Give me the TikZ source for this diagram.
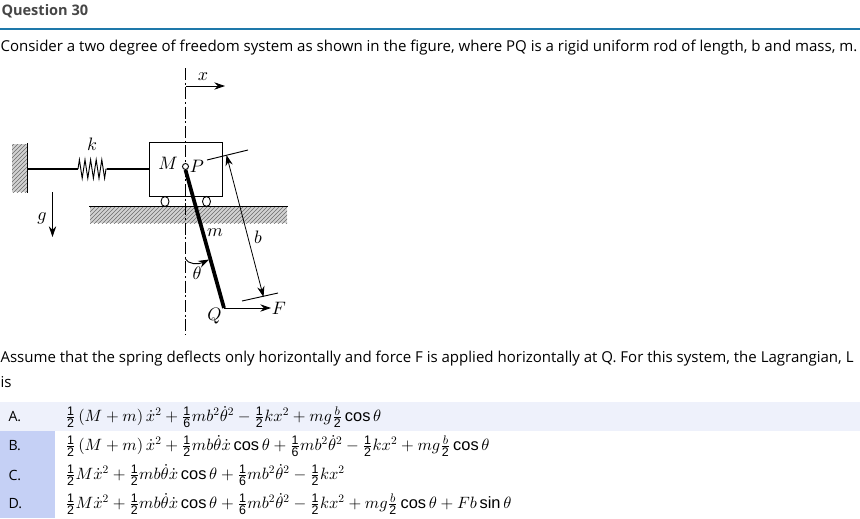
\documentclass[tikz,border=0pt]{standalone}
\usepackage{fontspec}
\setmainfont{Open Sans}
\newfontfamily\optfont{Liberation Sans}
\usetikzlibrary{arrows.meta,patterns,shapes.geometric,decorations.pathmorphing}
\DeclareFontShape{OML}{cmm}{m}{it}{<-6>cmmi5 <6-8>cmmi7 <8->cmmi10}{\skewchar\font=127}
\DeclareFontShape{OMS}{cmsy}{m}{n}{<-6>cmsy5 <6-8>cmsy7 <8->cmsy10}{\skewchar\font=48}
\DeclareFontShape{OT1}{cmr}{m}{n}{<-6>cmr5 <6-8>cmr7 <8->cmr10}{}
\definecolor{rulecolor}{RGB}{30,120,170}
\definecolor{titlegray}{RGB}{70,70,70}
\definecolor{rowlight}{RGB}{238,241,251}
\definecolor{rowdark}{RGB}{197,208,245}
\newcommand{\optfrac}[2]{\frac{\hbox{\fontsize{9.3pt}{10pt}\optfont #1}}{\hbox{\fontsize{9.3pt}{10pt}\optfont #2}}}
\newcommand{\optcos}{\mathop{\hbox{\optfont cos}}}
\newcommand{\optsin}{\mathop{\hbox{\optfont sin}}}
\tikzset{
  linetext/.style={anchor=west, inner sep=0pt, font=\fontsize{11.27pt}{13pt}\selectfont},
  optlabel/.style={anchor=west, inner sep=0pt, font=\fontsize{10.6pt}{12pt}\selectfont},
  opteqn/.style={anchor=west, inner sep=0pt, font=\fontsize{12.3pt}{14pt}\selectfont},
  figlabel/.style={inner sep=0pt, font=\fontsize{13.5pt}{15pt}\selectfont},
  hatchbox/.style={draw=none, fill=gray!35, inner sep=0pt, postaction={pattern=north east lines, pattern color=gray!85!black}},
  thinflow/.style={-{Stealth[length=8pt,width=5.5pt]}, line width=0.7pt},
  thinline/.style={line width=0.7pt},
}
\begin{document}
\begin{tikzpicture}[x=0.75pt,y=-0.75pt,line width=0.8pt]
      \useasboundingbox (0,0) rectangle (860,518);
      \fill[white] (0,0) rectangle (860,518);

      %% ---- Heading and text ----
      \node[anchor=west, inner sep=0pt, text=titlegray, font=\fontsize{10.9pt}{12pt}\selectfont\bfseries] (title) at (1,11) {Question 30};
      \coordinate (ruleleft) at (0,29);
      \coordinate (ruleright) at (860,29);
      \draw[rulecolor, line width=1pt] (ruleleft) -- (ruleright);
      \node[linetext] (intro) at (0,48) {Consider a two degree of freedom system as shown in the figure, where PQ is a rigid uniform rod of length, b and mass, m.};
      \node[linetext] (assume) at (0,359) {Assume that the spring deflects only horizontally and force F is applied horizontally at Q. For this system, the Lagrangian, L};
      \node[linetext] (assumeb) at (0,382) {is};

      %% ---- Figure: wall, spring, block ----
      \node[hatchbox, minimum width=15*0.75pt, minimum height=48*0.75pt] (wall) at (19.5,168) {};
      \draw[line width=1pt] (wall.north east) -- (wall.south east);
      \node[draw, fill=white, thinline, minimum width=73*0.75pt, minimum height=54*0.75pt, inner sep=0pt] (block) at (185.5,169) {};
      \coordinate (wallend) at (27,169);
      \coordinate (springa) at (78,169);
      \coordinate (springb) at (107,169);
      \coordinate (blockend) at (149,169);
      \draw[line width=1.1pt] (wallend) -- (springa);
      \draw[line width=0.7pt, decorate, decoration={zigzag, segment length=4.2pt, amplitude=7pt}] (springa) -- (springb);
      \draw[line width=1.1pt] (springb) -- (blockend);
      \node[figlabel] (klabel) at (92,144) {$k$};
      \node[figlabel] (mlabel) at (168,163) {$M$};
      \node[figlabel] (plabel) at (197,166) {$P$};

      %% ---- Ground and wheels ----
      \node[hatchbox, minimum width=197*0.75pt, minimum height=16*0.75pt] (ground) at (188.5,215) {};
      \draw[line width=0.9pt] (ground.north west) -- (ground.north east);
      \foreach \wx/\wname in {165/wheela, 206.5/wheelb}{
        \node[draw, fill=white, thinline, ellipse, minimum width=8*0.75pt, minimum height=10*0.75pt, inner sep=0pt] (\wname) at (\wx,201.5) {};}

      %% ---- Centre line and x arrow ----
      \coordinate (centertop) at (185.5,68);
      \coordinate (centerbot) at (185.5,335);
      \draw[thinline, dash pattern=on 9pt off 2pt on 1.5pt off 2pt] (centertop) -- (centerbot);
      \coordinate (xstart) at (185.5,86);
      \coordinate (xend) at (225,86);
      \draw[thinflow] (xstart) -- (xend);
      \node[figlabel] (xlabel) at (203,77) {$x$};

      %% ---- Gravity ----
      \coordinate (gtop) at (52.5,192);
      \coordinate (gbot) at (52.5,237);
      \draw[thinflow] (gtop) -- (gbot);
      \node[figlabel] (glabel) at (42,218) {$g$};

      %% ---- Rod PQ ----
      \node[draw, fill=white, thinline, circle, minimum size=6*0.75pt, inner sep=0pt] (pivot) at (185.5,166.5) {};
      \coordinate (rodq) at (224,308);
      \draw[line width=2.8pt] (pivot.south) -- (rodq);
      \node[figlabel] (rodm) at (215,233) {$m$};
      \node[figlabel] (qlabel) at (214.5,316) {$Q$};

      %% ---- Force at Q ----
      \coordinate (fend) at (271,308);
      \draw[thinflow] (rodq) -- (fend);
      \node[figlabel] (flabel) at (279,308) {$F$};

      %% ---- Length b ----
      \coordinate (ticka) at (207,160);
      \coordinate (tickb) at (248,150);
      \coordinate (tickc) at (242,301);
      \coordinate (tickd) at (278,293);
      \coordinate (dima) at (226.5,155);
      \coordinate (dimb) at (263.5,297);
      \draw[thinline] (ticka) -- (tickb);
      \draw[thinline] (tickc) -- (tickd);
      \draw[{Stealth[length=8pt,width=5.5pt]}-{Stealth[length=8pt,width=5.5pt]}, line width=0.6pt] (dima) -- (dimb);
      \node[figlabel] (blabel) at (258,237) {$b$};

      %% ---- Angle theta ----
      \coordinate (anglea) at (185.5,259);
      \coordinate (angleb) at (209,259.5);
      \draw[thinflow] (anglea) .. controls (188,264) and (198,265) .. (angleb);
      \node[figlabel] (thetalabel) at (197,273) {$\theta$};

      %% ---- Options ----
      \fill[rowlight] (0,402) rectangle (860,431);
      \fill[rowdark] (0,431) rectangle (55,518);
      \foreach \oy/\olbl/\oname in {417/A./opta, 446/B./optb, 475/C./optc, 504/D./optd}{
        \node[optlabel] (\oname) at (8,\oy) {\olbl};}
      \node[opteqn] (eqna) at (65,417) {$\optfrac12\left(M+m\right)\dot{x}^2+\optfrac16mb^2\dot\theta^2-\optfrac12kx^2+mg\optfrac{$b$}2\optcos\theta$};
      \node[opteqn] (eqnb) at (65,446) {$\optfrac12\left(M+m\right)\dot{x}^2+\optfrac12mb\dot\theta\dot{x}\optcos\theta+\optfrac16mb^2\dot\theta^2-\optfrac12kx^2+mg\optfrac{$b$}2\optcos\theta$};
      \node[opteqn] (eqnc) at (65,475) {$\optfrac12M\dot{x}^2+\optfrac12mb\dot\theta\dot{x}\optcos\theta+\optfrac16mb^2\dot\theta^2-\optfrac12kx^2$};
      \node[opteqn] (eqnd) at (65,504) {$\optfrac12M\dot{x}^2+\optfrac12mb\dot\theta\dot{x}\optcos\theta+\optfrac16mb^2\dot\theta^2-\optfrac12kx^2+mg\optfrac{$b$}2\optcos\theta+Fb\optsin\theta$};
\end{tikzpicture}
\end{document}
